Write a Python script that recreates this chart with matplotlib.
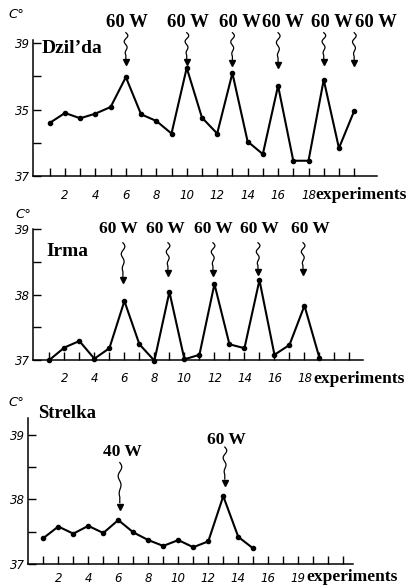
import numpy as np
import matplotlib
matplotlib.use("Agg")
import matplotlib.pyplot as plt
from matplotlib.ticker import FixedLocator, FixedFormatter

# ---------------- data ----------------
dz_exp = list(range(1, 22))
dz_temp = [37.80, 37.95, 37.87, 37.94, 38.04, 38.49, 37.93, 37.83, 37.64, 38.63,
           37.88, 37.64, 38.55, 37.52, 37.33, 38.36, 37.23, 37.23, 38.45, 37.42, 37.98]
dz_arrow_exp = [6, 10, 13, 16, 19, 21]
dz_arrow_labels = ["60 W"] * 6

ir_exp = list(range(1, 20))
ir_temp = [37.00, 37.19, 37.29, 37.02, 37.18, 37.90, 37.24, 36.99, 38.04, 37.01,
           37.08, 38.16, 37.24, 37.18, 38.22, 37.08, 37.23, 37.83, 37.03]
ir_arrow_exp = [6, 9, 12, 15, 18]
ir_arrow_labels = ["60 W"] * 5

st_exp = list(range(1, 16))
st_temp = [37.40, 37.58, 37.47, 37.59, 37.48, 37.68, 37.49, 37.37, 37.28, 37.37,
           37.26, 37.35, 38.05, 37.42, 37.24]
st_arrow_exp = [6, 13]
st_arrow_labels = ["40 W", "60 W"]

x_ticks = list(range(1, 22))
x_labels_main = ["2", "4", "6", "8", "10", "12", "14", "16", "18"]
x_labels_st = ["2", "4", "6", "8", "10", "12", "14", "16", "19"]
y_ticks = [37, 38, 39]
y_minor = [37.5, 38.5]
y_labels_dz = ["37", "35", "39"]
y_labels = ["37", "38", "39"]

W, H = 408, 588
fig = plt.figure(figsize=(W / 100, H / 100), dpi=100)

def px_axes(left, right, base, top_px):
    return fig.add_axes([left / W, (H - base) / H, (right - left) / W, (base - top_px) / H])

serif_bold = dict(family="Liberation Serif", weight="bold")

def setup(ax, xlim, ylim, labels, ylabs, pad):
    ax.set_xlim(*xlim)
    ax.set_ylim(*ylim)
    for s in ["top", "right"]:
        ax.spines[s].set_visible(False)
    for s in ["left", "bottom"]:
        ax.spines[s].set_linewidth(1.1)
    lab = []
    for t in x_ticks:
        lab.append(labels[t // 2 - 1] if (t % 2 == 0 and t <= 18) else "")
    ax.xaxis.set_major_locator(FixedLocator(x_ticks))
    ax.xaxis.set_major_formatter(FixedFormatter(lab))
    ax.yaxis.set_major_locator(FixedLocator(y_ticks))
    ax.yaxis.set_major_formatter(FixedFormatter(ylabs))
    ax.yaxis.set_minor_locator(FixedLocator(y_minor))
    ax.tick_params(axis="x", direction="in", length=6, width=1.0, pad=pad)
    ax.tick_params(axis="y", which="both", direction="in", length=6, width=1.0, pad=2)
    for t in ax.get_xticklabels() + ax.get_yticklabels():
        t.set_fontstyle("italic")
        t.set_fontsize(8.5)
    ax.patch.set_alpha(0)

def squiggle(ax, x, y_top, y_tip, amp=0.14, waves=2.2):
    t = np.linspace(0, 1, 80)
    y = y_top + (y_tip - y_top) * 0.9 * t
    env = np.clip((0.85 - t) / 0.85, 0, 1) ** 0.5
    xs = x + amp * np.sin(2 * np.pi * waves * t) * env
    ax.plot(xs, y, color="black", lw=0.9, clip_on=False)
    ax.plot([x], [y_tip], marker="v", color="black", markersize=4, clip_on=False)

def draw(ax, xs, ys):
    ax.plot(xs, ys, color="black", lw=1.5, marker="o", markersize=3, clip_on=False)

# ---- panel 1 ----
ax1 = px_axes(33, 377, 176, 40)
setup(ax1, (-0.1, 22.5), (37, 39.05), x_labels_main, y_labels_dz, 9.5)
draw(ax1, dz_exp, dz_temp)
dz_label_x = [6.1, 10.1, 13.5, 16.3, 19.55, 22.4]
dz_tips = [38.72, 38.72, 38.70, 38.67, 38.72, 38.70]
for xa, lx, tip, lab in zip(dz_arrow_exp, dz_label_x, dz_tips, dz_arrow_labels):
    ax1.text(lx, 39.31, lab, ha="center", va="center", fontsize=13.5, clip_on=False, **serif_bold)
    squiggle(ax1, xa, 39.16, tip)
ax1.text(0.5, 38.92, "Dzil’da", ha="left", va="center", fontsize=14, **serif_bold)

# ---- panel 2 ----
ax2 = px_axes(33, 363, 360, 229)
setup(ax2, (-0.09, 21.9), (37, 39), x_labels_main, y_labels, 8.5)
draw(ax2, ir_exp, ir_temp)
ir_label_x = [5.6, 8.7, 11.9, 15.0, 18.4]
ir_tips = [38.22, 38.33, 38.33, 38.34, 38.34]
for xa, lx, tip, lab in zip(ir_arrow_exp, ir_label_x, ir_tips, ir_arrow_labels):
    ax2.text(lx, 39.0, lab, ha="center", va="center", fontsize=12.5, clip_on=False, **serif_bold)
    squiggle(ax2, xa - 0.1, 38.79, tip)
ax2.text(0.83, 38.65, "Irma", ha="left", va="center", fontsize=14, **serif_bold)

# ---- panel 3 ----
ax3 = px_axes(28, 353, 564, 418)
setup(ax3, (-0.02, 21.65), (37, 39.26), x_labels_st, y_labels, 5.5)
draw(ax3, st_exp, st_temp)
st_label_pos = [(6.25, 38.74), (13.2, 38.92)]
st_arrow_span = [(38.57, 37.88), (38.81, 38.26)]
for xa, (lx, ly), (yt, yp), lab in zip(st_arrow_exp, st_label_pos, st_arrow_span, st_arrow_labels):
    ax3.text(lx, ly, lab, ha="center", va="center", fontsize=12.5, clip_on=False, **serif_bold)
    squiggle(ax3, xa + 0.1, yt, yp)
ax3.text(0.67, 39.33, "Strelka", ha="left", va="center", fontsize=13.5, clip_on=False, **serif_bold)

# ---- extra labels ----
for (px, py) in [(8, 14), (15, 215), (8, 403)]:
    fig.text(px / W, 1 - py / H, "C°", ha="left", va="center", fontsize=9.5, fontstyle="italic")
for (px, py) in [(315, 195), (313, 379), (306, 577)]:
    fig.text(px / W, 1 - py / H, "experiments", ha="left", va="center", fontsize=12.5, **serif_bold)

fig.savefig("out.png", dpi=100)
